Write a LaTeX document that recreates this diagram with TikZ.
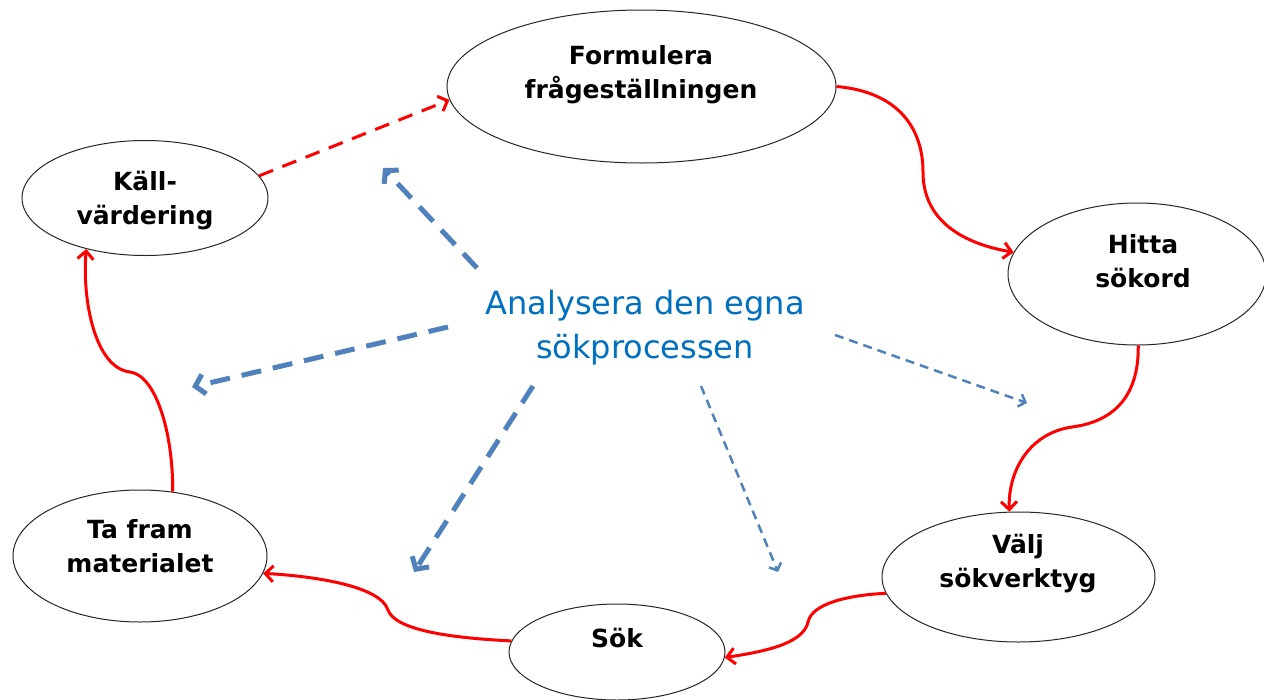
\documentclass[tikz,border=0pt]{standalone}
\usepackage{fontspec}
\setmainfont{DejaVu Sans}
\usetikzlibrary{shapes.geometric,arrows.meta}
\definecolor{redc}{RGB}{255,0,0}
\definecolor{bluearr}{RGB}{79,129,189}
\definecolor{bluetxt}{RGB}{0,112,192}
\tikzset{
  ell/.style={ellipse,draw=black!85,line width=1pt,inner sep=0pt},
  lbl/.style={align=center,font=\fontsize{25}{34}\selectfont\bfseries,text=black},
  redarr/.style={draw=redc,line width=3pt,-{Straight Barb[length=8pt,width=16pt]}},
  reddash/.style={redarr,dash pattern=on 15pt off 10pt},
  bluethick/.style={draw=bluearr,line width=5pt,dash pattern=on 20pt off 12pt,-{Straight Barb[length=9pt,width=20pt]}},
  bluethin/.style={draw=bluearr,line width=2.5pt,dash pattern=on 9pt off 6pt,-{Straight Barb[length=6pt,width=13pt]}}
}
\begin{document}
\begin{tikzpicture}[x=1pt,y=-1pt]
\useasboundingbox (0,0) rectangle (1264,699);
\fill[white] (0,0) rectangle (1264,699);
% ellipses
\node[ell,minimum width=389pt,minimum height=153pt] (f) at (641.5,86.5) {};
\node[ell,minimum width=246pt,minimum height=115pt] (k) at (145,198) {};
\node[ell,minimum width=258pt,minimum height=142pt] (h) at (1137,274) {};
\node[ell,minimum width=273pt,minimum height=130pt] (v) at (1018.5,577) {};
\node[ell,minimum width=216pt,minimum height=96pt] (s) at (617,652) {};
\node[ell,minimum width=254pt,minimum height=132pt] (t) at (140,556) {};
% labels
\node[lbl] (ft) at (641,75) {Formulera\\frågeställningen};
\node[lbl] (kt) at (145,201) {Käll-\\värdering};
\node[lbl] (ht) at (1143,261) {Hitta\\sökord};
\node[lbl] (vt) at (1018,564) {Välj\\sökverktyg};
\node[lbl] (st) at (617,638) {Sök};
\node[lbl] (tt) at (140,546) {Ta fram\\materialet};
\node[align=center,font=\fontsize{32}{44}\selectfont,text=bluetxt] (c) at (645,328) {Analysera den egna\\sökprocessen};
% red cycle
\draw[reddash] (k.11) -- (f.184);
\draw[redarr] (f.0) .. controls (900,92) and (923,130) .. (923,172) .. controls (923,222) and (965,244) .. (h.170);
\draw[redarr] (h.-89) .. controls (1139,400) and (1110,422) .. (1072,427) .. controls (1030,433) and (1008,470) .. (v.98);
\draw[redarr] (v.187) .. controls (850,595) and (812,603) .. (808,622) .. controls (803,645) and (760,652) .. (s.-3);
\draw[redarr] (s.174) .. controls (450,638) and (395,630) .. (388,610) .. controls (380,585) and (310,576) .. (t.-8);
\draw[redarr] (t.63) .. controls (173,430) and (155,375) .. (130,372) .. controls (95,368) and (82,300) .. (k.221);
% blue arrows
\coordinate (b1s) at (477,268); \coordinate (b1e) at (383,168);
\coordinate (b2s) at (448,327); \coordinate (b2e) at (192,387);
\coordinate (b3s) at (533,386); \coordinate (b3e) at (414,572);
\coordinate (b4s) at (701,386); \coordinate (b4e) at (778,572);
\coordinate (b5s) at (835,335); \coordinate (b5e) at (1027,403);
\draw[bluethick] (b1s) -- (b1e);
\draw[bluethick] (b2s) -- (b2e);
\draw[bluethick] (b3s) -- (b3e);
\draw[bluethin] (b4s) -- (b4e);
\draw[bluethin] (b5s) -- (b5e);
\end{tikzpicture}
\end{document}
